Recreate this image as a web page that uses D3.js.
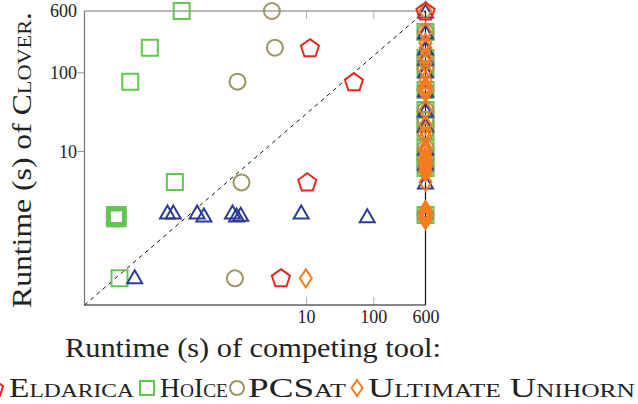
<!DOCTYPE html>
<html>
<head>
<meta charset="utf-8">
<script src="https://cdn.jsdelivr.net/npm/d3@7"></script>
<style>
  html, body { margin: 0; padding: 0; background: #fff; overflow: hidden; }
  text { font-family: "Liberation Serif", "DejaVu Serif", serif; fill: #222; }
  .sc { font-variant: small-caps; }
</style>
</head>
<body>
<svg id="chart" width="638" height="404"></svg>
<script>
// Runtime pairs in seconds: [competing tool, Clover]; 600 s is the timeout.
const eldarica = [
  [11.4, 205], [51.6, 76], [10.4, 4.07], [4.21, 0.246], [600, 600]
];
const hoice = [
  [0.14, 600], [0.047, 205], [0.024, 76], [0.111, 4.04],
  [0.0142, 1.54], [0.0156, 1.54], [0.0149, 1.47], [0.0142, 1.40], [0.0156, 1.40],
  [0.0166, 0.242],
  [600, 324], [600, 152], [600, 110], [600, 59.6], [600, 33.2], [600, 24.8],
  [600, 17.9], [600, 10.9], [600, 8.1], [600, 6.1], [600, 1.54]
];
const pcsat = [
  [3.09, 600], [3.43, 205], [0.95, 76], [1.09, 4.0], [0.87, 0.242],
  [600, 324], [600, 152], [600, 110], [600, 59.6], [600, 33.2], [600, 24.8],
  [600, 17.9], [600, 10.9], [600, 8.1], [600, 6.1], [600, 1.54]
];
const ultimate = [
  [9.9, 0.242],
  [600, 600], [600, 324], [600, 236], [600, 203], [600, 152], [600, 131],
  [600, 104], [600, 79.8], [600, 67], [600, 63], [600, 59.6], [600, 55],
  [600, 33.2], [600, 21.4], [600, 17.9], [600, 15.1], [600, 10.9], [600, 9.7],
  [600, 8.5], [600, 7.8], [600, 7.3], [600, 6.7], [600, 6.3], [600, 5.8],
  [600, 5.4], [600, 4.04], [600, 1.78], [600, 1.66], [600, 1.54], [600, 1.44], [600, 1.33]
];
const triangles = [
  [0.086, 1.68], [0.105, 1.68], [0.238, 1.68], [0.30, 1.54], [0.80, 1.68],
  [0.92, 1.54], [1.06, 1.58], [8.45, 1.68], [81.4, 1.51], [0.028, 0.253],
  [600, 600], [600, 324], [600, 203], [600, 152], [600, 104], [600, 59.6],
  [600, 33.2], [600, 21.4], [600, 10.9], [600, 7.0], [600, 4.04]
];

const xTicks = [10, 100, 600];
const yTicks = [10, 100, 600];
const xDomain = [0.005, 600];
const yDomain = [0.111, 600];

const legendNames = ["Eldarica", "HoIce", "PCSat", "Ultimate Unihorn"];

const COLORS = {
  red: "#e5281f",
  green: "#62c64f",
  olive: "#9c9565",
  orange: "#f47d20",
  blue: "#2d3c98"
};

// Marker outlines, centred on the origin
const shapes = {
  pentagon: (r) => {
    const pts = d3.range(5).map(k => {
      const a = -Math.PI / 2 + k * 2 * Math.PI / 5;
      return [r * Math.cos(a), r * Math.sin(a) + r * 0.095];
    });
    return "M" + pts.map(p => p.join(",")).join("L") + "Z";
  },
  square: (s) => `M${-s/2},${-s/2}H${s/2}V${s/2}H${-s/2}Z`,
  circle: (r) => `M${r},0A${r},${r} 0 1,1 ${-r},0A${r},${r} 0 1,1 ${r},0Z`,
  diamond: (w, h) => `M0,${-h/2}L${w/2},0L0,${h/2}L${-w/2},0Z`,
  triangle: (w, h) => `M0,${-h/2}L${w/2},${h/2}L${-w/2},${h/2}Z`
};

const svg = d3.select("#chart");
const M = { left: 84.5, right: 425.5, top: 11, bottom: 305 };

const x = d3.scaleLog().domain(xDomain).range([M.left, M.right]);
const y = d3.scaleLog().domain(yDomain).range([M.bottom, M.top]);

// Left axis: outward ticks and labels
const gl = svg.append("g").attr("transform", `translate(${M.left},0)`)
  .call(d3.axisLeft(y).tickValues(yTicks).tickFormat(d3.format("d")).tickSize(7).tickPadding(0));
gl.select(".domain").remove();
gl.selectAll(".tick line").attr("stroke", "#888").attr("stroke-width", 0.9)
  .filter(d => d === 600).remove();
gl.selectAll(".tick text").attr("font-size", 18).attr("fill", "#222")
  .attr("font-family", "Liberation Serif").attr("x", -7.5).attr("dy", "0.33em");

// Bottom axis: inward ticks and labels
const gb = svg.append("g").attr("transform", `translate(0,${M.bottom})`)
  .call(d3.axisBottom(x).tickValues(xTicks).tickFormat(d3.format("d")).tickSize(-8));
gb.select(".domain").remove();
gb.selectAll(".tick line").attr("stroke", "#aaa").attr("stroke-width", 0.9)
  .filter(d => d === 600).remove();
gb.selectAll(".tick text").attr("font-size", 18).attr("fill", "#222")
  .attr("font-family", "Liberation Serif").attr("y", 18).attr("dy", 0);

// Top axis: inward ticks only
const gt = svg.append("g").attr("transform", `translate(0,${M.top})`)
  .call(d3.axisTop(x).tickValues(xTicks).tickFormat("").tickSize(-8));
gt.select(".domain").remove();
gt.selectAll(".tick line").attr("stroke", "#aaa").attr("stroke-width", 0.9)
  .filter(d => d === 600).remove();

// Frame
svg.append("line").attr("x1", M.left).attr("x2", M.right).attr("y1", M.top).attr("y2", M.top)
  .attr("stroke", "#777").attr("stroke-width", 1.2);
svg.append("line").attr("x1", M.left).attr("x2", M.left).attr("y1", M.top).attr("y2", M.bottom)
  .attr("stroke", "#777").attr("stroke-width", 1.2);
svg.append("line").attr("x1", M.left).attr("x2", M.right).attr("y1", M.bottom).attr("y2", M.bottom)
  .attr("stroke", "#111").attr("stroke-width", 1.2);
svg.append("line").attr("x1", M.right).attr("x2", M.right).attr("y1", M.top).attr("y2", M.bottom)
  .attr("stroke", "#111").attr("stroke-width", 1.2);

// Diagonal reference line
svg.append("line")
  .attr("x1", x(xDomain[0])).attr("y1", y(yDomain[0]))
  .attr("x2", x(600)).attr("y2", y(600))
  .attr("stroke", "#111").attr("stroke-width", 1).attr("stroke-dasharray", "4,4");

// Scatter series
function drawSeries(data, path, color, cls) {
  svg.append("g").attr("class", cls)
    .selectAll("path").data(data).join("path")
    .attr("d", path)
    .attr("transform", d => `translate(${x(d[0])},${y(d[1])})`)
    .attr("fill", "none")
    .attr("stroke", color)
    .attr("stroke-width", 2)
    .attr("stroke-linejoin", "miter");
}

drawSeries(hoice, shapes.square(16), COLORS.green, "hoice");
drawSeries(pcsat, shapes.circle(8), COLORS.olive, "pcsat");
drawSeries(triangles, shapes.triangle(15, 13), COLORS.blue, "triangles");
drawSeries(ultimate, shapes.diamond(12, 18), COLORS.orange, "ultimate");
drawSeries(eldarica, shapes.pentagon(9.5), COLORS.red, "eldarica");

// Axis titles
const F = 27;
svg.append("text")
  .attr("x", 253).attr("y", 357)
  .attr("text-anchor", "middle")
  .attr("font-size", F)
  .attr("textLength", 376).attr("lengthAdjust", "spacingAndGlyphs")
  .text("Runtime (s) of competing tool:");

const yl = svg.append("text")
  .attr("transform", "translate(31,160) rotate(-90)")
  .attr("text-anchor", "middle")
  .attr("font-size", F)
  .attr("textLength", 296).attr("lengthAdjust", "spacingAndGlyphs");
yl.append("tspan").text("Runtime (s) of ");
yl.append("tspan").attr("class", "sc").text("Clover");
yl.append("tspan").text(".");

// Legend row
const legendY = 397;
const legendItems = [
  { name: legendNames[0], path: shapes.pentagon(8.5), color: COLORS.red, mx: -5, tx: 9, len: 125 },
  { name: legendNames[1], path: shapes.square(14), color: COLORS.green, mx: 147, tx: 160, len: 68 },
  { name: legendNames[2], path: shapes.circle(7), color: COLORS.olive, mx: 237, tx: 248, len: 98 },
  { name: legendNames[3], path: shapes.diamond(11, 16), color: COLORS.orange, mx: 357, tx: 368, len: 267 }
];
const lg = svg.append("g").attr("class", "legend");
legendItems.forEach(it => {
  lg.append("path").attr("d", it.path)
    .attr("transform", `translate(${it.mx},${legendY - 9})`)
    .attr("fill", "none").attr("stroke", it.color).attr("stroke-width", 2);
  lg.append("text").attr("class", "sc")
    .attr("x", it.tx).attr("y", legendY)
    .attr("font-size", F)
    .attr("textLength", it.len).attr("lengthAdjust", "spacingAndGlyphs")
    .text(it.name);
});
</script>
</body>
</html>
